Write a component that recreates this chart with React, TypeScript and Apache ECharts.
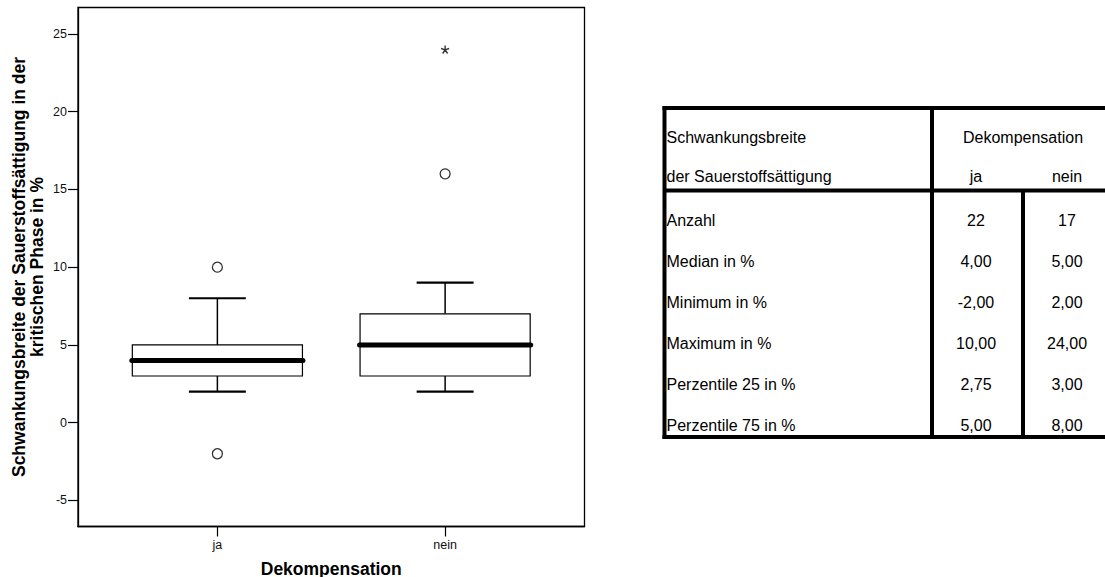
import React, { useEffect, useRef } from 'react';
import * as echarts from 'echarts';

// ---- Data ----
const categories = ['ja', 'nein'];
const whiskerLow = [2, 2];
const quartile1 = [3, 3];
const medians = [4, 5];
const quartile3 = [5, 7];
const whiskerHigh = [8, 9];
const outliers: [number, number][] = [[0, 10], [0, -2], [1, 16]];
const extremes: [number, number][] = [[1, 24]];
const yTicks = [-5, 0, 5, 10, 15, 20, 25];
const xTicks = [0, 1];

const yAxisTitle = 'Schwankungsbreite der Sauerstoffsättigung in der\nkritischen Phase in %';
const xAxisTitle = 'Dekompensation';

const tableHeader = ['Schwankungsbreite', 'der Sauerstoffsättigung'];
const tableGroup = 'Dekompensation';
const tableRowLabels = ['Anzahl', 'Median in %', 'Minimum in %', 'Maximum in %', 'Perzentile 25 in %', 'Perzentile 75 in %'];
const tableJa = ['22', '4,00', '-2,00', '10,00', '2,75', '5,00'];
const tableNein = ['17', '5,00', '2,00', '24,00', '3,00', '8,00'];

const FONT_FAMILY = '"Liberation Sans", Arial, Helvetica, sans-serif';

function txt(x: number, y: number, text: string, align: string) {
  return {
    type: 'text',
    x,
    y,
    style: {
      text,
      fill: '#000',
      font: `16px ${FONT_FAMILY}`,
      align,
      verticalAlign: 'middle',
      textAlign: align,
      textVerticalAlign: 'middle',
    },
  };
}

function ln(x1: number, y1: number, x2: number, y2: number, w: number) {
  return {
    type: 'line',
    shape: { x1, y1, x2, y2 },
    style: { stroke: '#000', lineWidth: w },
  };
}

function buildTable() {
  const L = 664.5, R = 1112, T = 108, HB = 190.5, B = 437, C1 = 932, C2 = 1023;
  const colJa = 976, colNein = 1067;
  const lw = 4;
  const els: any[] = [];
  els.push(ln(L - 2, T, R, T, lw));
  els.push(ln(L, T - 2, L, B + 2, lw));
  els.push(ln(L - 2, B, R, B, lw));
  els.push(ln(C1, T, C1, B, lw));
  els.push(ln(L, HB, R, HB, lw));
  els.push(ln(C2, HB, C2, B, lw));
  els.push(txt(666.5, 137, tableHeader[0], 'left'));
  els.push(txt(666.5, 176, tableHeader[1], 'left'));
  els.push(txt((C1 + 1114) / 2, 137, tableGroup, 'center'));
  els.push(txt(colJa, 176, categories[0], 'center'));
  els.push(txt(colNein, 176, categories[1], 'center'));
  tableRowLabels.forEach((lab, i) => {
    const y = 220 + i * 41;
    els.push(txt(666.5, y, lab, 'left'));
    els.push(txt(colJa, y, tableJa[i], 'center'));
    els.push(txt(colNein, y, tableNein[i], 'center'));
  });
  return els;
}

export default function App() {
  const ref = useRef<HTMLDivElement>(null);
  useEffect(() => {
    if (!ref.current) return;
    const chart = echarts.init(ref.current, undefined, { renderer: 'svg' });
    const labelStyle = { color: '#111', fontSize: 12.5, fontFamily: FONT_FAMILY };
    const titleStyle = { color: '#000', fontSize: 17.5, fontWeight: 'bold', fontFamily: FONT_FAMILY, lineHeight: 18 };
    const option: any = {
      animation: false,
      backgroundColor: '#fff',
      grid: {
        left: 78,
        top: 7.5,
        width: 506.5,
        height: 519,
        containLabel: false,
        outerBoundsMode: 'none',
        show: true,
        borderColor: '#000',
        borderWidth: 1.3,
        backgroundColor: 'transparent',
      },
      xAxis: {
        type: 'value',
        min: -0.612,
        max: 1.612,
        splitLine: { show: false },
        axisLine: { show: true, onZero: false, lineStyle: { color: '#000', width: 1.3 } },
        axisTick: { show: true, customValues: xTicks, length: 10, lineStyle: { color: '#000', width: 1.2 } },
        axisLabel: {
          customValues: xTicks,
          formatter: (v: number) => categories[Math.round(v)] ?? '',
          margin: 12,
          ...labelStyle,
        },
        name: xAxisTitle,
        nameLocation: 'middle',
        nameGap: 33,
        nameTextStyle: titleStyle,
      },
      yAxis: {
        type: 'value',
        min: -6.68,
        max: 26.7,
        splitLine: { show: false },
        axisLine: { show: true, onZero: false, lineStyle: { color: '#000', width: 1.3 } },
        axisTick: { show: true, customValues: yTicks, length: 10, lineStyle: { color: '#000', width: 1.2 } },
        axisLabel: { customValues: yTicks, margin: 11, ...labelStyle },
        name: yAxisTitle,
        nameLocation: 'middle',
        nameGap: 32,
        nameTextStyle: titleStyle,
      },
      series: [
        {
          type: 'custom',
          z: 2,
          data: categories.map((_, i) => [i, whiskerLow[i], quartile1[i], medians[i], quartile3[i], whiskerHigh[i]]),
          encode: { x: 0, y: [1, 2, 3, 4, 5] },
          renderItem: (params: any, api: any) => {
            const i = api.value(0);
            const unit = api.size([1, 0])[0];
            const boxHalf = unit * 0.3735;
            const capHalf = unit * 0.125;
            const [cx, yLow] = api.coord([i, api.value(1)]);
            const yQ1 = api.coord([i, api.value(2)])[1];
            const yMed = api.coord([i, api.value(3)])[1];
            const yQ3 = api.coord([i, api.value(4)])[1];
            const yHigh = api.coord([i, api.value(5)])[1];
            const st = (w: number) => ({ stroke: '#000', lineWidth: w, fill: 'none' });
            return {
              type: 'group',
              children: [
                { type: 'line', shape: { x1: cx, y1: yQ3, x2: cx, y2: yHigh }, style: st(1.5) },
                { type: 'line', shape: { x1: cx, y1: yQ1, x2: cx, y2: yLow }, style: st(1.5) },
                { type: 'line', shape: { x1: cx - capHalf, y1: yHigh, x2: cx + capHalf, y2: yHigh }, style: st(2.2) },
                { type: 'line', shape: { x1: cx - capHalf, y1: yLow, x2: cx + capHalf, y2: yLow }, style: st(2.2) },
                {
                  type: 'rect',
                  shape: { x: cx - boxHalf, y: yQ3, width: boxHalf * 2, height: yQ1 - yQ3 },
                  style: { fill: '#fff', stroke: '#000', lineWidth: 1.2 },
                },
                {
                  type: 'line',
                  shape: { x1: cx - boxHalf - 0.5, y1: yMed, x2: cx + boxHalf + 0.5, y2: yMed },
                  style: { stroke: '#000', lineWidth: 5, lineCap: 'round' },
                },
              ],
            };
          },
        },
        {
          type: 'scatter',
          z: 3,
          data: outliers,
          symbol: 'circle',
          symbolSize: 10,
          itemStyle: { color: '#fff', borderColor: '#000', borderWidth: 1.3 },
        },
        {
          type: 'scatter',
          z: 3,
          data: extremes,
          symbol: 'path://M5 0 L5 5 M5 5 L0.24 3.45 M5 5 L9.76 3.45 M5 5 L2.06 9.05 M5 5 L7.94 9.05',
          symbolSize: 8,
          itemStyle: { color: 'none', borderColor: '#000', borderWidth: 1.4 },
        },
      ],
      graphic: buildTable(),
    };
    chart.setOption(option);
    return () => chart.dispose();
  }, []);
  return (
    <div
      ref={ref}
      style={{ position: 'fixed', left: 0, top: 0, width: 1105, height: 577, background: '#fff' }}
    />
  );
}
